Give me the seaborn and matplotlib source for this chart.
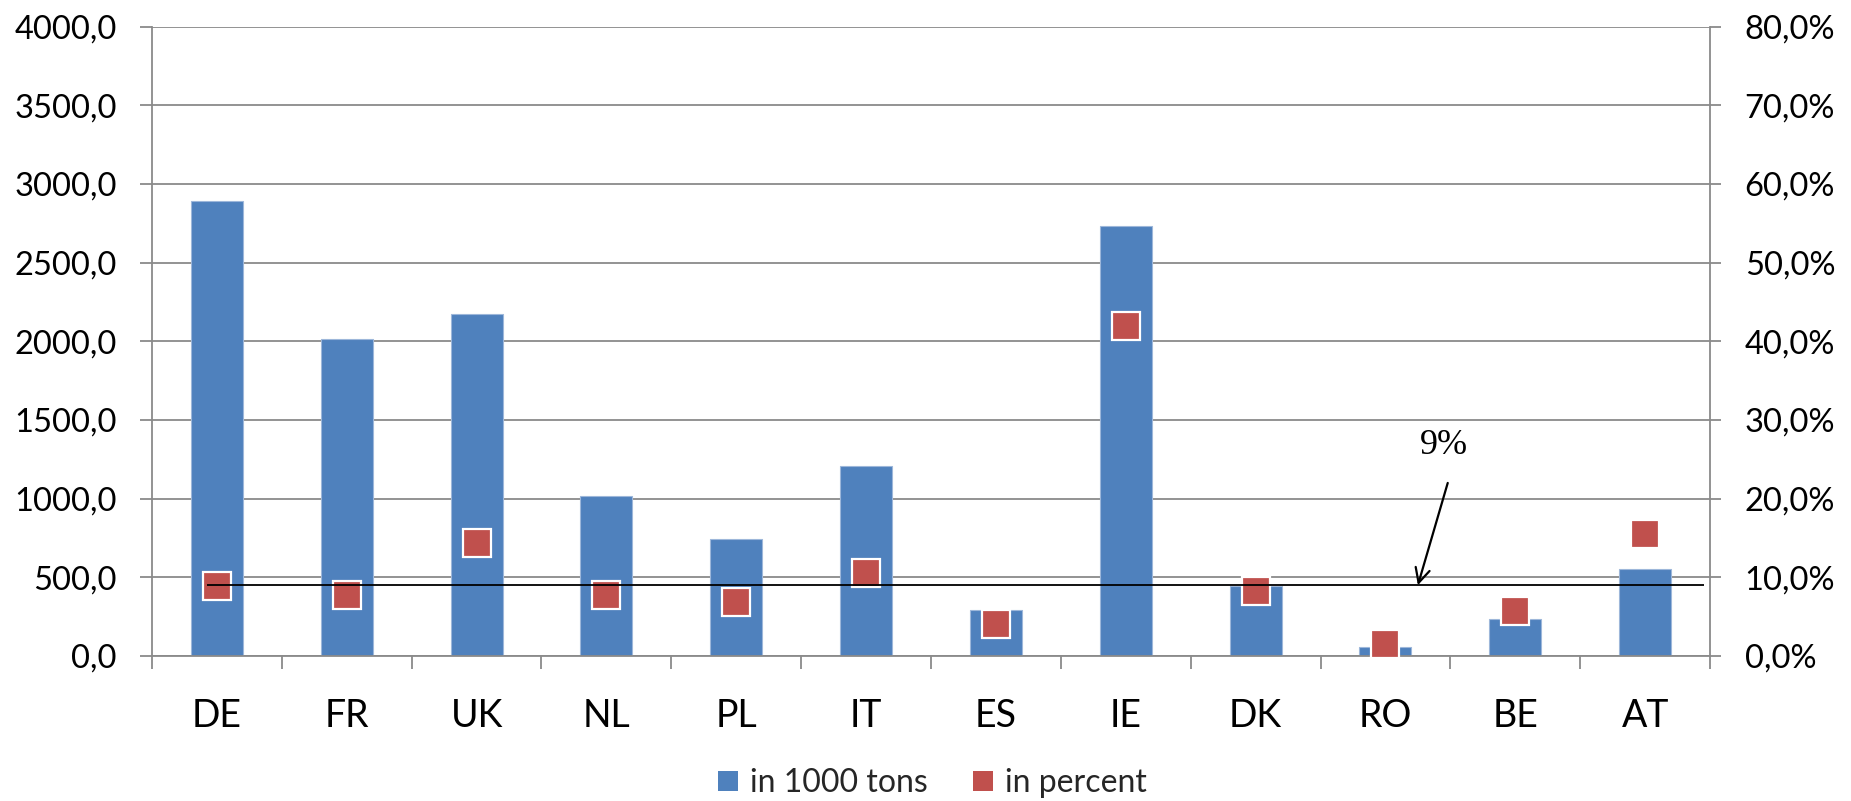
import numpy as np
import matplotlib
matplotlib.use("Agg")
import matplotlib.pyplot as plt
from matplotlib.lines import Line2D
from matplotlib.ticker import MultipleLocator, FixedLocator, FuncFormatter
import seaborn as sns

# Data
countries = ["DE", "FR", "UK", "NL", "PL", "IT", "ES", "IE", "DK", "RO", "BE", "AT"]
tons_1000 = [2895, 2016, 2175, 1018, 743, 1209, 290, 2731, 444, 59, 235, 551]
share_pct = [8.9, 7.8, 14.4, 7.7, 6.9, 10.5, 4.1, 41.9, 8.3, 1.5, 5.7, 15.5]
reference_pct = 9.0
reference_label = "9%"
legend_labels = ["in 1000 tons", "in percent"]

BLUE = "#4F81BD"
RED = "#C0504D"
GRID = "#8A8A8A"

sns.set_theme(style="white")
plt.rcParams["font.family"] = ["Lato", "DejaVu Sans"]

fig = plt.figure(figsize=(18.51, 8.01), dpi=100)
ax = fig.add_axes([152 / 1851, 1 - 656 / 801, (1710 - 152) / 1851, (656 - 26.7) / 801])

# Tonnage bars on the left axis
sns.barplot(x=countries, y=tons_1000, ax=ax, color=BLUE, saturation=1,
            width=0.4, edgecolor="#9DB7DA", linewidth=0.8, zorder=2)
ax.set_ylim(0, 4000)
ax.yaxis.set_major_locator(MultipleLocator(500))
ax.yaxis.set_major_formatter(FuncFormatter(lambda v, p: f"{v:.1f}".replace(".", ",")))
ax.set_axisbelow(True)
ax.yaxis.grid(True, color=GRID, linewidth=1.3)
ax.xaxis.grid(False)

# Share markers on the right axis
ax2 = ax.twinx()
sns.pointplot(x=countries, y=share_pct, ax=ax2, color=RED, markers="s",
              linestyles="none", markersize=20.5, markeredgecolor="white",
              markeredgewidth=1.6, errorbar=None)
ax2.set_ylim(0, 80)
ax2.yaxis.set_major_locator(MultipleLocator(10))
ax2.yaxis.set_major_formatter(FuncFormatter(lambda v, p: f"{v:.1f}".replace(".", ",") + "%"))
ax2.grid(False)

# Average reference line with its annotation
ax2.hlines(reference_pct, -0.074, 11.45, color="black", linewidth=1.3, zorder=5)
ax2.annotate("", xy=(9.25, reference_pct), xytext=(9.48, 22.0),
             arrowprops=dict(arrowstyle="->", color="black", lw=1.6, mutation_scale=26,
                             shrinkA=0, shrinkB=0), zorder=6)
ax2.text(9.45, 26.7, reference_label, ha="center", va="center", fontsize=26,
         family=["Liberation Serif", "DejaVu Serif"], color="black")

ax.set_xlim(-0.5, len(countries) - 0.5)
ax.set_xlabel("")
ax.set_ylabel("")
ax2.set_ylabel("")
ax2.set_xlabel("")

# Spines and ticks
for a in (ax, ax2):
    for s in a.spines.values():
        s.set_color(GRID)
        s.set_linewidth(1.3)
    a.spines["top"].set_visible(False)
ax.spines["right"].set_visible(False)
ax2.spines["left"].set_visible(False)
ax2.spines["bottom"].set_visible(False)

ax.tick_params(axis="y", which="major", left=True, direction="out", length=8.6,
               width=1.3, color=GRID, pad=16.6, labelsize=23.5, labelcolor="black")
ax2.tick_params(axis="y", which="major", right=True, direction="out", length=8.0,
                width=1.3, color=GRID, pad=17, labelsize=23.5, labelcolor="black")
ax.xaxis.set_major_locator(FixedLocator(np.arange(len(countries))))
ax.set_xticklabels(countries)
ax.xaxis.set_minor_locator(FixedLocator(np.arange(len(countries) + 1) - 0.5))
ax.tick_params(axis="x", which="major", bottom=True, length=0, pad=30,
               labelsize=27, labelcolor="black")
ax.tick_params(axis="x", which="minor", bottom=True, direction="out", length=9.4,
               width=1.3, color=GRID)

# Legend
handles = [Line2D([], [], linestyle="none", marker="s", markersize=15,
                  markerfacecolor=BLUE, markeredgewidth=0),
           Line2D([], [], linestyle="none", marker="s", markersize=15,
                  markerfacecolor=RED, markeredgewidth=0)]
fig.legend(handles, legend_labels, loc="center", bbox_to_anchor=(0.503, 0.0225),
           ncol=2, frameon=False, fontsize=23, handlelength=0.8,
           handletextpad=0.3, columnspacing=1.3, borderpad=0)

fig.savefig("out.png", dpi=100)
